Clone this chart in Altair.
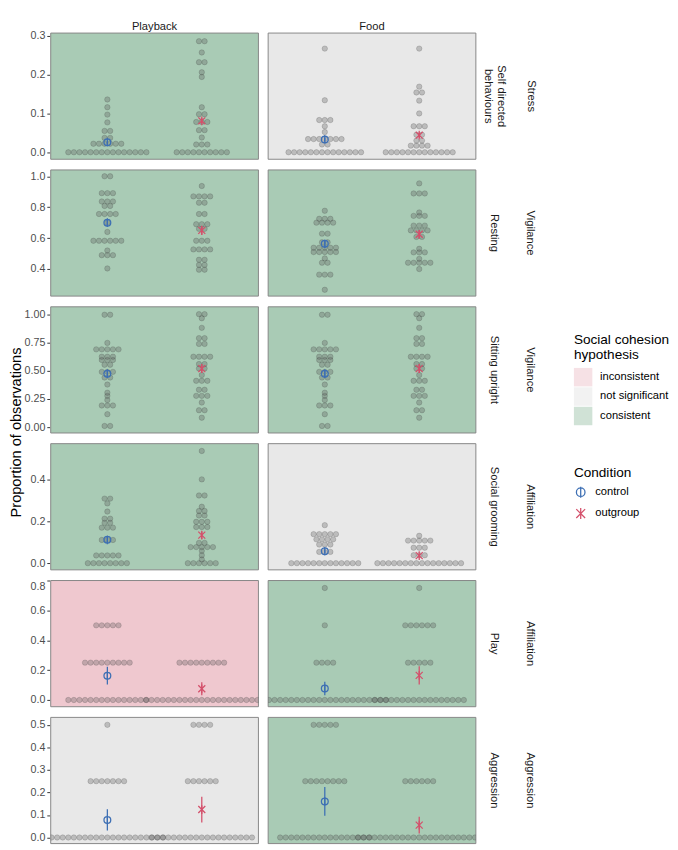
import altair as alt
import pandas as pd

experiments = ["Playback", "Food"]
conditions = ["control", "outgroup"]
hyp_levels = ["inconsistent", "not significant", "consistent"]
hyp_colors = ["#efc8cf", "#e8e8e8", "#a9cbb5"]
cond_colors = ["#3d6fb4", "#d4506b"]

# ---- Row 1: Stress / Self directed behaviours  (value, number of dots) ----
sdb_pb_ctrl = [(0.0, 15), (0.022, 6), (0.037, 2), (0.055, 2), (0.077, 1), (0.097, 1), (0.116, 1), (0.136, 1)]
sdb_pb_out = [(0.0, 10), (0.02, 3), (0.038, 1), (0.057, 2), (0.078, 3), (0.098, 2), (0.116, 1), (0.194, 1),
              (0.206, 1), (0.232, 2), (0.257, 1), (0.286, 2)]
sdb_fd_ctrl = [(0.0, 14), (0.02, 2), (0.034, 7), (0.052, 1), (0.067, 1), (0.083, 3), (0.134, 1), (0.267, 1)]
sdb_fd_out = [(0.0, 13), (0.017, 4), (0.03, 2), (0.045, 2), (0.067, 3), (0.1, 1), (0.133, 1), (0.154, 2),
              (0.169, 1), (0.267, 1)]
sdb_mean = [0.026, 0.081, 0.033, 0.044]
sdb_se = [0.004, 0.007, 0.005, 0.007]
sdb_hyp = ["consistent", "not significant"]

# ---- Row 2: Vigilance / Resting ----
rest_pb_ctrl = [(0.404, 1), (0.49, 3), (0.52, 1), (0.583, 6), (0.64, 1), (0.70, 1), (0.756, 4), (0.808, 2),
                (0.837, 3), (0.891, 3), (1.0, 2)]
rest_pb_out = [(0.396, 2), (0.427, 2), (0.46, 2), (0.527, 4), (0.583, 3), (0.66, 2), (0.69, 3), (0.756, 2),
               (0.829, 2), (0.87, 4), (0.937, 1)]
rest_fd_ctrl = [(0.266, 1), (0.364, 3), (0.441, 2), (0.469, 1), (0.51, 5), (0.538, 5), (0.573, 2), (0.629, 2),
                (0.70, 4), (0.725, 3), (0.777, 1)]
rest_fd_out = [(0.40, 1), (0.441, 5), (0.466, 1), (0.508, 3), (0.531, 1), (0.608, 2), (0.65, 4), (0.681, 3),
               (0.744, 3), (0.766, 1), (0.889, 3), (0.954, 1)]
rest_mean = [0.70, 0.65, 0.563, 0.625]
rest_se = [0.025, 0.03, 0.025, 0.028]
rest_hyp = ["consistent", "consistent"]

# ---- Row 3: Vigilance / Sitting upright ----
sit_pb_ctrl = [(0.012, 2), (0.116, 1), (0.193, 3), (0.241, 1), (0.278, 1), (0.306, 1), (0.378, 1), (0.44, 2),
               (0.49, 3), (0.553, 2), (0.595, 3), (0.624, 3), (0.689, 5), (0.746, 1), (0.995, 2)]
sit_pb_out = [(0.085, 1), (0.151, 2), (0.219, 1), (0.278, 3), (0.332, 2), (0.411, 3), (0.462, 1), (0.52, 2),
              (0.559, 2), (0.624, 4), (0.737, 2), (0.788, 2), (0.879, 1), (0.964, 1), (1.0, 2)]
sit_fd_ctrl = [(0.012, 2), (0.116, 1), (0.193, 3), (0.241, 1), (0.278, 1), (0.306, 1), (0.378, 1), (0.44, 2),
               (0.49, 3), (0.553, 2), (0.595, 3), (0.624, 3), (0.689, 5), (0.746, 1), (0.995, 2)]
sit_fd_out = [(0.085, 1), (0.151, 2), (0.219, 1), (0.278, 3), (0.332, 2), (0.411, 3), (0.462, 1), (0.52, 2),
              (0.559, 2), (0.624, 4), (0.737, 2), (0.788, 2), (0.879, 1), (0.964, 1), (1.0, 2)]
sit_mean = [0.474, 0.519, 0.474, 0.519]
sit_se = [0.035, 0.04, 0.035, 0.04]
sit_hyp = ["consistent", "consistent"]

# ---- Row 4: Affiliation / Social grooming ----
groom_pb_ctrl = [(0.0, 8), (0.037, 5), (0.111, 3), (0.17, 3), (0.193, 2), (0.213, 2), (0.247, 1), (0.286, 1),
                 (0.309, 2)]
groom_pb_out = [(0.0, 6), (0.018, 1), (0.038, 1), (0.059, 1), (0.077, 5), (0.097, 2), (0.173, 3), (0.198, 3),
                (0.228, 2), (0.25, 2), (0.27, 1), (0.324, 2), (0.401, 1), (0.537, 1)]
groom_fd_ctrl = [(0.0, 13), (0.054, 3), (0.089, 3), (0.114, 4), (0.139, 5), (0.182, 1)]
groom_fd_out = [(0.0, 16), (0.038, 3), (0.074, 3), (0.108, 5), (0.131, 1)]
groom_mean = [0.112, 0.134, 0.057, 0.036]
groom_se = [0.015, 0.018, 0.008, 0.007]
groom_hyp = ["consistent", "not significant"]

# ---- Row 5: Affiliation / Play ----
play_pb_ctrl = [(0.0, 15), (0.25, 9), (0.5, 5)]
play_pb_out = [(0.0, 21), (0.25, 9)]
play_fd_ctrl = [(0.0, 23), (0.25, 4), (0.5, 1), (0.75, 1)]
play_fd_out = [(0.0, 17), (0.25, 5), (0.5, 6), (0.75, 1)]
play_mean = [0.163, 0.075, 0.077, 0.165]
play_se = [0.059, 0.043, 0.045, 0.061]
play_hyp = ["inconsistent", "consistent"]

# ---- Row 6: Aggression / Aggression ----
aggr_pb_ctrl = [(0.0, 21), (0.25, 7), (0.5, 1)]
aggr_pb_out = [(0.0, 19), (0.25, 6), (0.5, 4)]
aggr_fd_ctrl = [(0.0, 17), (0.25, 8), (0.5, 5)]
aggr_fd_out = [(0.0, 23), (0.25, 6)]
aggr_mean = [0.078, 0.124, 0.16, 0.055]
aggr_se = [0.047, 0.057, 0.064, 0.037]
aggr_hyp = ["not significant", "consistent"]

rows = [
    dict(beh="Self directed behaviours", grp="Stress",
         dots=[sdb_pb_ctrl, sdb_pb_out, sdb_fd_ctrl, sdb_fd_out], mean=sdb_mean, se=sdb_se, hyp=sdb_hyp,
         domain=[-0.018, 0.307], ticks=[0, 0.1, 0.2, 0.3], fmt=".1f"),
    dict(beh="Resting", grp="Vigilance",
         dots=[rest_pb_ctrl, rest_pb_out, rest_fd_ctrl, rest_fd_out], mean=rest_mean, se=rest_se, hyp=rest_hyp,
         domain=[0.225, 1.041], ticks=[0.4, 0.6, 0.8, 1.0], fmt=".1f"),
    dict(beh="Sitting upright", grp="Vigilance",
         dots=[sit_pb_ctrl, sit_pb_out, sit_fd_ctrl, sit_fd_out], mean=sit_mean, se=sit_se, hyp=sit_hyp,
         domain=[-0.05, 1.065], ticks=[0, 0.25, 0.5, 0.75, 1.0], fmt=".2f"),
    dict(beh="Social grooming", grp="Affiliation",
         dots=[groom_pb_ctrl, groom_pb_out, groom_fd_ctrl, groom_fd_out], mean=groom_mean, se=groom_se,
         hyp=groom_hyp, domain=[-0.032, 0.572], ticks=[0, 0.2, 0.4], fmt=".1f"),
    dict(beh="Play", grp="Affiliation",
         dots=[play_pb_ctrl, play_pb_out, play_fd_ctrl, play_fd_out], mean=play_mean, se=play_se, hyp=play_hyp,
         domain=[-0.045, 0.8], ticks=[0, 0.2, 0.4, 0.6, 0.8], fmt=".1f"),
    dict(beh="Aggression", grp="Aggression",
         dots=[aggr_pb_ctrl, aggr_pb_out, aggr_fd_ctrl, aggr_fd_out], mean=aggr_mean, se=aggr_se, hyp=aggr_hyp,
         domain=[-0.027, 0.533], ticks=[0, 0.1, 0.2, 0.3, 0.4, 0.5], fmt=".1f"),
]

W, H = 214, 130
DOTW = 0.0591          # dot diameter in x-scale units (dotplot stacking width)
centers = {"control": 1.0, "outgroup": 2.0}

circ_path = "M0,-0.9L0,0.9M-0.7,0A0.7,0.7 0 1,0 0.7,0A0.7,0.7 0 1,0 -0.7,0"
x_path = "M-0.72,-0.72L0.72,0.72M-0.72,0.72L0.72,-0.72M0,-0.9L0,0.9"


def row_df(r):
    recs = []
    combos = [(e, c) for e in experiments for c in conditions]
    for i, (exp, cond) in enumerate(combos):
        for val, n in r["dots"][i]:
            for k in range(n):
                recs.append(dict(kind="dot", beh=r["beh"], exp=exp, cond=cond,
                                 x=centers[cond] + (k - (n - 1) / 2) * DOTW, y=val))
        m, s = r["mean"][i], r["se"][i]
        recs.append(dict(kind="mean", beh=r["beh"], exp=exp, cond=cond,
                         x=centers[cond], y=m, lo=m - s, hi=m + s))
    for j, exp in enumerate(experiments):
        recs.append(dict(kind="bg", beh=r["beh"], exp=exp, hyp=r["hyp"][j]))
    return pd.DataFrame(recs)


fill_legend = alt.Legend(title=["Social cohesion", " hypothesis"], orient="none", legendX=539, legendY=309,
                         symbolType="square", symbolSize=361, symbolStrokeWidth=0, symbolOpacity=0.55,
                         rowPadding=1, titleFontSize=14, titleFontWeight="normal", labelFontSize=11.5,
                         titlePadding=6, labelOffset=8)
cond_legend = alt.Legend(title="Condition", orient="none", legendX=539, legendY=446,
                         symbolSize=160, symbolStrokeWidth=1.3, rowPadding=4, titleFontSize=14,
                         titleFontWeight="normal", labelFontSize=11.5, titlePadding=6, labelOffset=8)


def row_chart(idx, r):
    df = row_df(r)
    base = alt.Chart(df)
    yscale = alt.Scale(domain=r["domain"], nice=False, zero=False)
    axis_kw = dict(values=r["ticks"], format=r["fmt"], minExtent=25, maxExtent=25, labelPadding=2,
                   tickSize=3, title=None)
    if idx == 4:
        axis_kw["labelFlush"] = True
    yaxis = alt.Axis(**axis_kw)
    xenc = alt.X("x:Q", scale=alt.Scale(domain=[0.4, 2.6], nice=False, zero=False), axis=None)

    bg = base.transform_filter("datum.kind == 'bg'").mark_rect(stroke="#858585", strokeWidth=1).encode(
        x=alt.value(0), x2=alt.value("width"), y=alt.value(0), y2=alt.value("height"),
        fill=alt.Fill("hyp:N", scale=alt.Scale(domain=hyp_levels, range=hyp_colors), legend=fill_legend),
    )
    dots = base.transform_filter("datum.kind == 'dot'").mark_circle(
        size=31, fill="#555555", fillOpacity=0.3, stroke="#2a2a2a", strokeOpacity=0.3, strokeWidth=0.6,
        clip=True
    ).encode(x=xenc, y=alt.Y("y:Q", scale=yscale, axis=yaxis))
    stroke_enc = alt.Stroke("cond:N", scale=alt.Scale(domain=conditions, range=cond_colors), legend=cond_legend)
    rules = base.transform_filter("datum.kind == 'mean'").mark_rule(strokeWidth=1.3).encode(
        x=xenc, y=alt.Y("lo:Q", scale=yscale, axis=yaxis), y2="hi:Q", stroke=stroke_enc)
    pts = base.transform_filter("datum.kind == 'mean'").mark_point(filled=False, size=100, strokeWidth=1.3,
                                                                    opacity=1).encode(
        x=xenc, y=alt.Y("y:Q", scale=yscale, axis=yaxis),
        shape=alt.Shape("cond:N", scale=alt.Scale(domain=conditions, range=[circ_path, x_path]),
                        legend=cond_legend),
        stroke=stroke_enc,
    )
    layered = alt.layer(bg, dots, rules, pts).properties(width=W, height=H)
    col_header = alt.Header(labels=(idx == 0), labelFontSize=11.5, labelColor="#1a1a1a", labelPadding=0)
    row_header = alt.Header(
        labelOrient="right", labelAngle=90, labelFontSize=11.5, labelColor="#1a1a1a",
        labelPadding=6 if idx == 0 else 12,
        labelExpr="datum.value == 'Self directed behaviours' ? ['Self directed', 'behaviours'] : datum.value",
        titleOrient="right", titleAngle=90, titleFontSize=11.5, titleFontWeight="normal",
        titleColor="#1a1a1a", titlePadding=9 if idx == 0 else 15,
    )
    return layered.facet(
        column=alt.Column("exp:N", sort=experiments, title=None, header=col_header),
        row=alt.Row("beh:N", title=r["grp"], header=row_header),
        spacing=8,
    )


charts = [row_chart(i, r) for i, r in enumerate(rows)]

chart = alt.vconcat(*charts, spacing=9).resolve_scale(
    y="independent"
).properties(
    padding={"left": 1, "top": 0, "right": 0, "bottom": 0},
    title=alt.TitleParams("Proportion of observations", orient="left", anchor="middle", fontSize=15,
                          fontWeight="normal", color="#000000", offset=0),
).configure(
    font="Liberation Sans"
).configure_view(
    strokeWidth=0
).configure_axis(
    labelFontSize=11, labelColor="#4d4d4d", tickColor="#333333", domain=False, grid=False,
    titleFontSize=14, titleFontWeight="normal", titleColor="#000000"
)

chart.save("out.html", embed_options={"renderer": "svg", "actions": False})
